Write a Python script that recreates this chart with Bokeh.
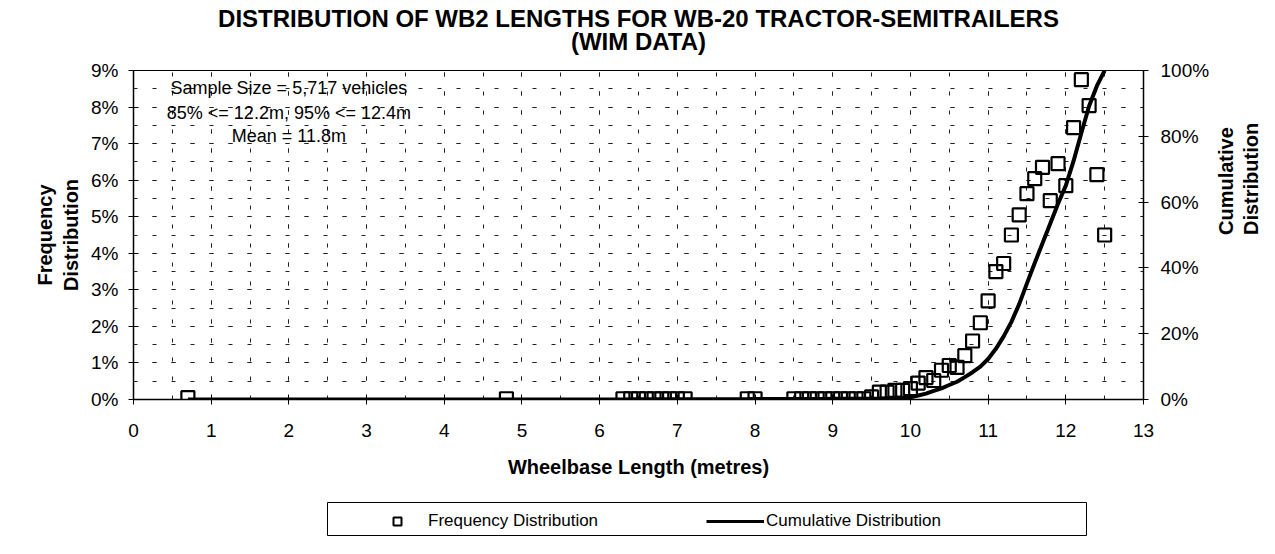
from math import pi
from bokeh.plotting import figure
from bokeh.layouts import column
from bokeh.models import (Range1d, LinearAxis, SingleIntervalTicker, PrintfTickFormatter,
                          FixedTicker, Legend, LegendItem, Label, BoxAnnotation,
                          ColumnDataSource)
from bokeh.embed import file_html
from bokeh.resources import INLINE

FONT = "Liberation Sans"

# ---- data ----
wheelbase_m = [0.7, 4.8, 6.3, 6.4, 6.5, 6.6, 6.7, 6.8, 6.9, 7.0, 7.1, 7.9, 8.0,
               8.5, 8.6, 8.7, 8.8, 8.9, 9.0, 9.1, 9.2, 9.3, 9.4, 9.5,
               9.6, 9.7, 9.8, 9.9,
               10.0, 10.1, 10.2, 10.3, 10.4, 10.5, 10.6, 10.7, 10.8, 10.9,
               11.0, 11.1, 11.2, 11.3, 11.4, 11.5, 11.6, 11.7, 11.8, 11.9,
               12.0, 12.1, 12.2, 12.3, 12.4, 12.5]
frequency_pct = [0.05, 0.02, 0.02, 0.02, 0.02, 0.02, 0.02, 0.02, 0.02, 0.02, 0.02, 0.02, 0.02,
                 0.02, 0.02, 0.02, 0.02, 0.02, 0.02, 0.02, 0.02, 0.02, 0.02, 0.07,
                 0.2, 0.2, 0.25, 0.25,
                 0.3, 0.45, 0.6, 0.52, 0.8, 0.93, 0.88, 1.2, 1.6, 2.1,
                 2.7, 3.5, 3.72, 4.5, 5.05, 5.63, 6.04, 6.35, 5.44, 6.45,
                 5.85, 7.44, 8.75, 8.04, 6.15, 4.5]
cumulative_pct = [0.0, 0.02, 0.03, 0.04, 0.05, 0.06, 0.07, 0.08, 0.09, 0.1, 0.11, 0.12, 0.13,
                  0.14, 0.15, 0.16, 0.17, 0.18, 0.19, 0.2, 0.21, 0.22, 0.23, 0.25,
                  0.3, 0.38, 0.46, 0.55,
                  0.7, 1.2, 1.8, 2.6, 3.4, 4.4, 5.4, 6.8, 8.3, 10.0,
                  12.3, 15.4, 19.2, 23.6, 29.0, 35.3, 41.5, 47.5, 53.5, 59.5,
                  65.0, 72.5, 81.0, 89.2, 95.3, 100.0]

title_lines = ["DISTRIBUTION OF WB2 LENGTHS FOR WB-20 TRACTOR-SEMITRAILERS", "(WIM DATA)"]
notes = ["Sample Size = 5,717 vehicles", "85% <= 12.2m, 95% <= 12.4m", "Mean = 11.8m"]
series_names = ["Frequency Distribution", "Cumulative Distribution"]
right_title = ["Cumulative", "Distribution"]

src = ColumnDataSource(dict(x=wheelbase_m, f=frequency_pct, c=cumulative_pct))

# ---------------- main chart ----------------
p = figure(width=1275, height=495, x_range=Range1d(0, 13), y_range=Range1d(0, 9),
           output_backend="svg", toolbar_location=None, title=None,
           min_border_left=133, min_border_right=132, min_border_top=70, min_border_bottom=96,
           background_fill_color="white", border_fill_color="white")
p.extra_y_ranges = {"cum": Range1d(0, 100)}
p.outline_line_color = "black"
p.outline_line_width = 1

xa = p.xaxis[0]
ya = p.yaxis[0]


def bare_axis(text, standoff, size, **kw):
    # an axis without ticks, used only for its label
    return LinearAxis(ticker=FixedTicker(ticks=[]), axis_label=text,
                      axis_line_color=None, major_tick_line_color=None,
                      minor_tick_line_color=None, major_tick_out=0, major_tick_in=0,
                      major_label_standoff=0, axis_label_standoff=standoff,
                      axis_label_text_font=FONT, axis_label_text_font_size=size,
                      axis_label_text_font_style="bold", axis_label_text_color="black", **kw)


# two-line chart title, centred over the frame
tt = bare_axis("\n".join(title_lines), 16, "24px")
tt.axis_label_text_line_height = 0.82
p.add_layout(tt, "above")

xa.ticker = SingleIntervalTicker(interval=1, num_minor_ticks=2)
xa.axis_label = "Wheelbase Length (metres)"
ya.ticker = SingleIntervalTicker(interval=1, num_minor_ticks=2)
ya.formatter = PrintfTickFormatter(format="%d%%")
ya.axis_label = "Frequency\nDistribution"

ra = LinearAxis(y_range_name="cum", ticker=SingleIntervalTicker(interval=20),
                formatter=PrintfTickFormatter(format="%d%%"))
p.add_layout(ra, "right")

for ax in (xa, ya, ra):
    ax.axis_line_color = "black"
    ax.axis_line_width = 1.5
    ax.major_tick_in = 5
    ax.major_tick_out = 5
    ax.major_tick_line_color = "black"
    ax.minor_tick_line_color = None
    ax.major_label_text_font = FONT
    ax.major_label_text_font_size = "19px"
    ax.major_label_text_color = "black"
    ax.axis_label_text_font = FONT
    ax.axis_label_text_font_size = "20px"
    ax.axis_label_text_font_style = "bold"
    ax.axis_label_text_color = "black"
xa.major_label_standoff = 19
xa.axis_label_standoff = 16
ya.major_label_standoff = 10
ya.axis_label_standoff = 6
ra.major_label_standoff = 12

# right-hand axis title, one line per bare axis, reading bottom to top
for txt, so in zip(right_title, (13, 0)):
    ax_r = bare_axis(txt, so, "20px")
    if "axis_label_orientation" in LinearAxis.properties():
        ax_r.axis_label_orientation = pi / 2
    p.add_layout(ax_r, "right")

# dashed grid every 0.5
for g in (p.xgrid[0], p.ygrid[0]):
    g.grid_line_color = "#222222"
    g.grid_line_dash = "4 15"
    g.grid_line_width = 1
    g.minor_grid_line_color = "#222222"
    g.minor_grid_line_dash = "4 15"
    g.minor_grid_line_width = 1

sq_style = dict(marker="square", size=13, fill_color=None, line_color="black", line_width=2.2)
ln_style = dict(line_color="black", line_width=4)
p.scatter("x", "f", source=src, **sq_style)
p.line("x", "c", source=src, y_range_name="cum", **ln_style)

for txt, yy in zip(notes, (8.51, 7.85, 7.22)):
    p.add_layout(Label(x=2.0, y=yy, text=txt, text_align="center", text_baseline="middle",
                       text_font=FONT, text_font_size="18px", text_color="black"))

# ---------------- legend strip (frame aligned with the chart's frame) ----------------
LH = 59
lf = figure(width=1275, height=LH, x_range=Range1d(133, 1143), y_range=Range1d(LH, 0),
            x_axis_type=None, y_axis_type=None, output_backend="svg", toolbar_location=None,
            title=None, min_border=0, min_border_left=0, min_border_right=0,
            min_border_top=0, min_border_bottom=0,
            background_fill_color="white", border_fill_color="white")
lf.outline_line_color = None
lf.grid.visible = False
lf.extra_y_ranges = {"off": Range1d(1000, 2000)}
# same series drawn off-screen in this strip, only so the legend can show their glyphs
lsq = lf.scatter("x", "f", source=src, y_range_name="off", **dict(sq_style, size=11, line_width=2))
lln = lf.line("x", "c", source=src, y_range_name="off", **dict(ln_style, line_width=3))
lf.add_layout(BoxAnnotation(left=327, right=1086, top=7, bottom=40, fill_alpha=0,
                            line_color="black", line_width=1, line_alpha=1))
legend = Legend(items=[LegendItem(label=series_names[0], renderers=[lsq]),
                       LegendItem(label=series_names[1], renderers=[lln])],
                orientation="horizontal", location=(235, 23),
                glyph_width=58, glyph_height=20, label_standoff=2, label_width=170,
                label_height=20, spacing=108, margin=0, padding=6,
                label_text_font=FONT, label_text_font_size="17px", label_text_color="black",
                border_line_color=None, background_fill_alpha=0)
lf.add_layout(legend, "center")

layout = column(p, lf, spacing=0)
open("out.html", "w").write(file_html(layout, INLINE))
